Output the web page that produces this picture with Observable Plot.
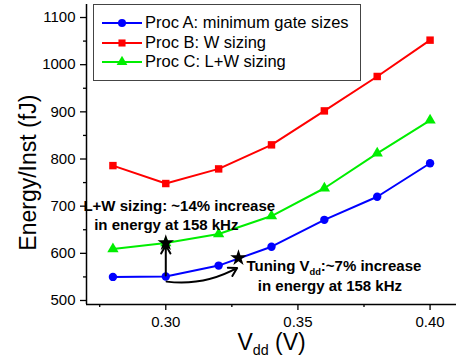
<!DOCTYPE html>
<html><head><meta charset="utf-8">
<script src="https://cdn.jsdelivr.net/npm/d3@7"></script>
<script src="https://cdn.jsdelivr.net/npm/@observablehq/plot@0.6"></script>
<style>
body{margin:0;background:#fff;font-family:"Liberation Sans",Arial,sans-serif;}
#wrap{position:relative;width:461px;height:358px;overflow:hidden;}
#legend{position:absolute;left:93px;top:4px;width:266px;height:75px;border:1.5px solid #444;background:#fff;}
.row{position:absolute;left:8px;height:20px;display:flex;align-items:center;font-size:16.5px;color:#000;white-space:nowrap;}
.row svg{margin-right:3px;}
</style></head><body><div id="wrap"></div>
<script>
// data
const vdd = [0.28, 0.30, 0.32, 0.34, 0.36, 0.38, 0.40];
const procA = [550, 551, 574, 614, 671, 720, 791];
const procB = [786, 748, 779, 830, 902, 975, 1052];
const procC = [609, 622, 641, 679, 738, 812, 882];
const seriesNames = ["Proc A: minimum gate sizes", "Proc B: W sizing", "Proc C: L+W sizing"];
const seriesColors = ["#0000ff", "#ff0000", "#00ee00"];
const seriesSymbols = ["circle", "square", "triangle"];
const yTicks = [500, 600, 700, 800, 900, 1000, 1100];
const yMinor = [550, 650, 750, 850, 950, 1050];
const xTicks = [0.30, 0.35, 0.40];
const xMinor = [0.275, 0.325, 0.375];
const starX = [0.30, 0.3275];
const starY = [622, 590];
const noteText = ["L+W sizing: ~14% increase", "in energy at 158 kHz", "Tuning Vdd:~7% increase", "in energy at 158 kHz"];
const noteX = [0.3051, 0.3002, 0.3636, 0.3621];
const noteY = [701, 659, 572, 530];
const xLabel = "Vdd (V)";
const yLabel = "Energy/Inst (fJ)";

const series = [procA, procB, procC];
const data = series.flatMap((vals, s) => vdd.map((x, i) => ({x, y: vals[i], s: seriesNames[s]})));
const stars = starX.map((x, i) => ({x, y: starY[i]}));
const notes = noteText.map((t, i) => ({t, x: noteX[i], y: noteY[i]}));
const xDom = [0.27, 0.41], yDom = [491.5, 1127.6];

const chart = Plot.plot({
  width: 461, height: 358,
  marginLeft: 86, marginRight: 5, marginTop: 4, marginBottom: 54,
  style: {fontFamily: "'Liberation Sans', Arial, sans-serif", fontSize: "15px", color: "#000", background: "transparent"},
  x: {domain: xDom},
  y: {domain: yDom},
  color: {domain: seriesNames, range: seriesColors},
  symbol: {domain: seriesNames, range: seriesSymbols},
  marks: [
    Plot.axisY(yTicks, {tickSize: 6, tickPadding: 5, tickFormat: d => String(d), label: null, strokeWidth: 1.3}),
    Plot.axisY(yMinor, {tickSize: 3, tickFormat: () => "", label: null, strokeWidth: 1.3}),
    Plot.axisX(xTicks, {tickSize: 6, tickPadding: 6, tickFormat: d3.format(".2f"), label: null, strokeWidth: 1.3}),
    Plot.axisX(xMinor, {tickSize: 3, tickFormat: () => "", label: null, strokeWidth: 1.3}),
    Plot.ruleX([xDom[0]], {strokeWidth: 1.5}),
    Plot.ruleY([yDom[0]], {strokeWidth: 1.5}),
    Plot.line(data, {x: "x", y: "y", z: "s", stroke: "s", strokeWidth: 2}),
    Plot.dot(data, {x: "x", y: "y", fill: "s", symbol: "s", r: 4.2}),
    Plot.arrow([0], {x1: () => 0.30, y1: () => 553, x2: () => 0.30, y2: () => 617, stroke: "black", strokeWidth: 2, headLength: 7}),
    Plot.arrow([0], {x1: () => 0.3003, y1: () => 540, x2: () => 0.327, y2: () => 569, bend: -18, stroke: "black", strokeWidth: 2, headLength: 7}),
    Plot.dot(stars, {x: "x", y: "y", symbol: "star", fill: "black", r: 5.2}),
    Plot.text(notes, {x: "x", y: "y", text: "t", fontWeight: "bold", fontSize: 15, lineAnchor: "middle", textAnchor: "middle", fill: "black"}),
    Plot.text([xLabel], {frameAnchor: "bottom", dy: 45, text: d => d, lineAnchor: "bottom", fontSize: 23}),
    Plot.text([yLabel], {x: () => 0.2481, y: () => 771, text: d => d, rotate: -90, lineAnchor: "middle", fontSize: 23})
  ]
});
const wrap = document.getElementById("wrap");
wrap.appendChild(chart);

// subscripts for Vdd
d3.select(chart).selectAll("text").each(function() {
  const t = this.textContent;
  if (!t.includes("Vdd") || this.querySelector("tspan")) return;
  const fs = parseFloat(getComputedStyle(this).fontSize);
  const sh = fs * 0.25;
  const [a, b] = t.split("Vdd");
  const sel = d3.select(this);
  sel.text(null);
  sel.append("tspan").text(a + "V");
  sel.append("tspan").attr("font-size", (fs * 0.62) + "px").attr("dy", sh).text("dd");
  sel.append("tspan").attr("dy", -sh).text(b);
});

// legend
const legend = document.createElement("div");
legend.id = "legend";
const rowTops = [7.5, 27.5, 46.5];
seriesNames.forEach((name, i) => {
  const row = document.createElement("div");
  row.className = "row";
  row.style.top = rowTops[i] + "px";
  const svg = d3.create("svg").attr("width", 40).attr("height", 12);
  svg.append("line").attr("x1", 0).attr("x2", 40).attr("y1", 6).attr("y2", 6).attr("stroke", seriesColors[i]).attr("stroke-width", 2);
  const types = {circle: d3.symbolCircle, square: d3.symbolSquare, triangle: d3.symbolTriangle};
  svg.append("path").attr("transform", "translate(20,6)").attr("fill", seriesColors[i])
    .attr("d", d3.symbol(types[seriesSymbols[i]], 16 * Math.PI)());
  row.appendChild(svg.node());
  const span = document.createElement("span");
  span.textContent = name;
  row.appendChild(span);
  legend.appendChild(row);
});
wrap.appendChild(legend);
</script></body></html>
